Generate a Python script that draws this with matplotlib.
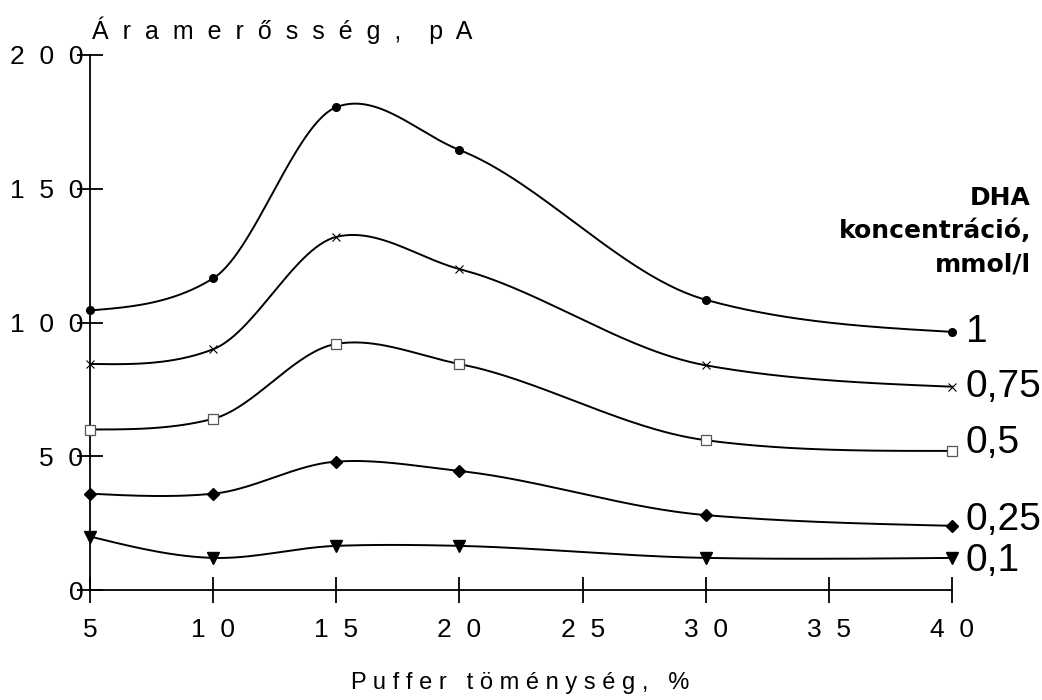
import numpy as np
import matplotlib
matplotlib.use("Agg")
import matplotlib.pyplot as plt

# ---- data ----
puffer = [5, 10, 15, 20, 30, 40]
conc_labels = ["1", "0,75", "0,5", "0,25", "0,1"]
s_1 = [104.5, 116.5, 180.5, 164.5, 108.5, 96.5]
s_075 = [84.5, 90, 132, 120, 84, 76]
s_05 = [60, 64, 92, 84.5, 56, 52]
s_025 = [36, 36, 48, 44.5, 28, 24]
s_01 = [20, 12, 16.5, 16.5, 12, 12]
series = [s_1, s_075, s_05, s_025, s_01]
xticks = [5, 10, 15, 20, 25, 30, 35, 40]
yticks = [0, 50, 100, 150, 200]


def spaced(s, sep="  "):
    return sep.join(list(s))


def smooth_curve(x, y, tension=0.75, n=60):
    """Cardinal Hermite spline through the points (rendering only)."""
    x = np.asarray(x, float)
    y = np.asarray(y, float)
    k = len(x)
    m = np.zeros(k)
    for i in range(1, k - 1):
        m[i] = tension * (y[i + 1] - y[i - 1]) / (x[i + 1] - x[i - 1])
    s0 = (y[1] - y[0]) / (x[1] - x[0])
    sn = (y[-1] - y[-2]) / (x[-1] - x[-2])
    m[0] = (3 * s0 - m[1]) / 2
    m[-1] = (3 * sn - m[-2]) / 2
    xs_all, ys_all = [], []
    for i in range(k - 1):
        h = x[i + 1] - x[i]
        t = np.linspace(0, 1, n)
        h00 = 2 * t**3 - 3 * t**2 + 1
        h10 = t**3 - 2 * t**2 + t
        h01 = -2 * t**3 + 3 * t**2
        h11 = t**3 - t**2
        xs_all.append(x[i] + t * h)
        ys_all.append(h00 * y[i] + h10 * h * m[i] + h01 * y[i + 1] + h11 * h * m[i + 1])
    return np.concatenate(xs_all), np.concatenate(ys_all)


plt.rcParams["font.family"] = ["Liberation Sans", "DejaVu Sans"]

fig = plt.figure(figsize=(10.42, 7.0), dpi=100)
ax = fig.add_axes([90 / 1042, 1 - 590 / 700, (952 - 90) / 1042, (590 - 55) / 700])
ax.set_xlim(5, 40)
ax.set_ylim(0, 200)

markers = [
    dict(marker="o", ms=5.5, mfc="black", mec="black"),
    dict(marker="x", ms=6, mfc="none", mec="black", mew=0.8),
    dict(marker="s", ms=6.5, mfc="white", mec="#555555", mew=0.9),
    dict(marker="D", ms=6, mfc="black", mec="black"),
    dict(marker="v", ms=8, mfc="black", mec="black"),
]

for ys, mk in zip(series, markers):
    xs_s, ys_s = smooth_curve(puffer, ys)
    ax.plot(xs_s, ys_s, color="black", lw=1.4, clip_on=False, zorder=3)
    ax.plot(puffer, ys, ls="none", clip_on=False, zorder=4, **mk)

label_y = [96.5, 76, 55, 26, 11]
for lab, yv in zip(conc_labels, label_y):
    ax.text(40.55, yv, lab, fontsize=28, va="center", ha="left", clip_on=False)

fig.text(1031 / 1042, 1 - 198 / 700, "DHA", fontsize=18, fontweight="bold",
         family="DejaVu Sans", ha="right", va="center")
fig.text(1031 / 1042, 1 - 231 / 700, "koncentráció,", fontsize=18,
         fontweight="bold", family="DejaVu Sans", ha="right", va="center")
fig.text(1031 / 1042, 1 - 265 / 700, "mmol/l", fontsize=18, fontweight="bold",
         family="DejaVu Sans", ha="right", va="center")

for sp in ["top", "right"]:
    ax.spines[sp].set_visible(False)
for sp in ["left", "bottom"]:
    ax.spines[sp].set_linewidth(1.3)

ax.set_xticks(xticks)
ax.set_xticklabels([spaced(str(t)) for t in xticks])
ax.set_yticks(yticks)
ax.set_yticklabels([spaced(str(t)) for t in yticks])
ax.tick_params(axis="both", direction="inout", length=18.5, width=1.3,
               labelsize=19)
ax.tick_params(axis="x", pad=11)
ax.tick_params(axis="y", pad=-4.5)

fig.text(92 / 1042, 1 - 30 / 700, spaced("Áramerősség,") + "    " + spaced("pA"),
         fontsize=18, ha="left", va="center")
fig.text(520 / 1042, 1 - 683 / 700,
         spaced("Puffer", " ") + "   " + spaced("töménység,", " ") + "   " + "%",
         fontsize=17, ha="center", va="center")

fig.savefig("out.png", dpi=100, facecolor="white")
